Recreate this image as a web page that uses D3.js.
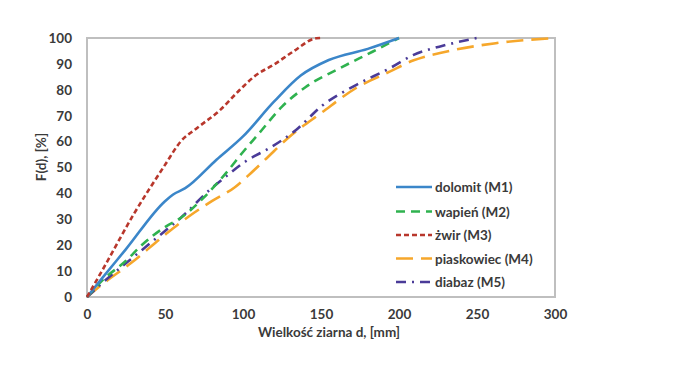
<!DOCTYPE html>
<html><head><meta charset="utf-8">
<script src="https://cdn.jsdelivr.net/npm/d3@7/dist/d3.min.js"></script>
<style>body{margin:0;background:#fff}svg{display:block}text{font-family:Lato,"Open Sans",sans-serif;font-weight:700;fill:#3a3a3a}</style>
</head><body><svg id="c" width="697" height="383"></svg>
<script>
const xTicks = [0, 50, 100, 150, 200, 250, 300];
const yTicks = [0, 10, 20, 30, 40, 50, 60, 70, 80, 90, 100];
const seriesNames = ["dolomit (M1)", "wapień (M2)", "żwir (M3)", "piaskowiec (M4)", "diabaz (M5)"];
const dolomit = [[0,0],[10,7.5],[25,18.5],[50,37],[55,39.5],[63,42],[83,53],[100,62],[120,75.5],[137,85.5],[155,91.5],[180,95.8],[200,100]];
const wapien = [[0,0],[10,6.5],[25,14],[35,20],[50,27],[60,30.5],[75,38.5],[90,48.5],[100,56],[110,63],[125,73.5],[140,81],[162,88.3],[183,94.7],[200,100]];
const zwir = [[0,0],[10,10.5],[30,32],[50,51],[60,60],[70,65],[85,72],[98,80],[108,85.5],[120,89.8],[132,94.7],[147,99.9],[150,100]];
const piaskowiec = [[0,0],[10,5],[28,13],[50,24],[65,31],[80,37],[95,42.5],[105,47.8],[115,53.5],[130,62],[150,71],[172,80.5],[194,87],[209,91.3],[230,94.7],[262,98],[300,100]];
const diabaz = [[0,0],[10,5.5],[35,18],[50,25.5],[60,30.5],[78,41],[90,47],[102,52.5],[117,57.5],[134,64.5],[151,74],[173,82],[194,88.3],[209,93.4],[230,97.3],[250,100]];
const allSeries = [dolomit, wapien, zwir, piaskowiec, diabaz];
const colors = ["#3b86c9", "#2fb24f", "#b8372c", "#f6a72b", "#4a3b98"];
const dashes = ["none", "9,6", "5,3", "17,8", "10,6,2,6"];

const svg = d3.select("#c");
const m = {l: 87, r: 555, t: 38, b: 297};
const x = d3.scaleLinear().domain([0, 300]).range([m.l, m.r]);
const y = d3.scaleLinear().domain([0, 100]).range([m.b, m.t]);

svg.append("rect").attr("x", m.l).attr("y", m.t).attr("width", m.r - m.l).attr("height", m.b - m.t)
  .attr("fill", "none").attr("stroke", "#bfbfbf").attr("stroke-width", 2);

const xa = svg.append("g").attr("transform", `translate(0,${m.b})`)
  .call(d3.axisBottom(x).tickValues(xTicks).tickSize(0).tickPadding(12));
xa.select(".domain").remove();
xa.selectAll("text").style("font-size", "13.5px").attr("fill", "#3a3a3a");
const ya = svg.append("g").attr("transform", `translate(${m.l},0)`)
  .call(d3.axisLeft(y).tickValues(yTicks).tickSize(0).tickPadding(15));
ya.select(".domain").remove();
ya.selectAll("text").style("font-size", "13.5px").attr("fill", "#3a3a3a");

svg.append("text").attr("x", 329).attr("y", 337).attr("text-anchor", "middle")
  .style("font-size", "13.5px").text("Wielkość ziarna d, [mm]");
svg.append("text").attr("transform", "translate(46,157) rotate(-90)").attr("text-anchor", "middle")
  .style("font-size", "13.5px").text("F(d), [%]");

const line = d3.line().x(d => x(d[0])).y(d => y(d[1])).curve(d3.curveMonotoneX);
const order = [3, 4, 1, 0, 2];
order.forEach(i => {
  svg.append("path").attr("d", line(allSeries[i])).attr("fill", "none")
    .attr("stroke", colors[i]).attr("stroke-width", 2.6)
    .attr("stroke-dasharray", dashes[i]);
});

const ly = [187, 211.5, 235, 258.5, 282];
seriesNames.forEach((n, i) => {
  svg.append("line").attr("x1", 396).attr("x2", 432).attr("y1", ly[i]).attr("y2", ly[i])
    .attr("stroke", colors[i]).attr("stroke-width", 2.6).attr("stroke-dasharray", dashes[i]);
  svg.append("text").attr("x", 435).attr("y", ly[i] + 5).style("font-size", "13.5px").text(n);
});
</script></body></html>
